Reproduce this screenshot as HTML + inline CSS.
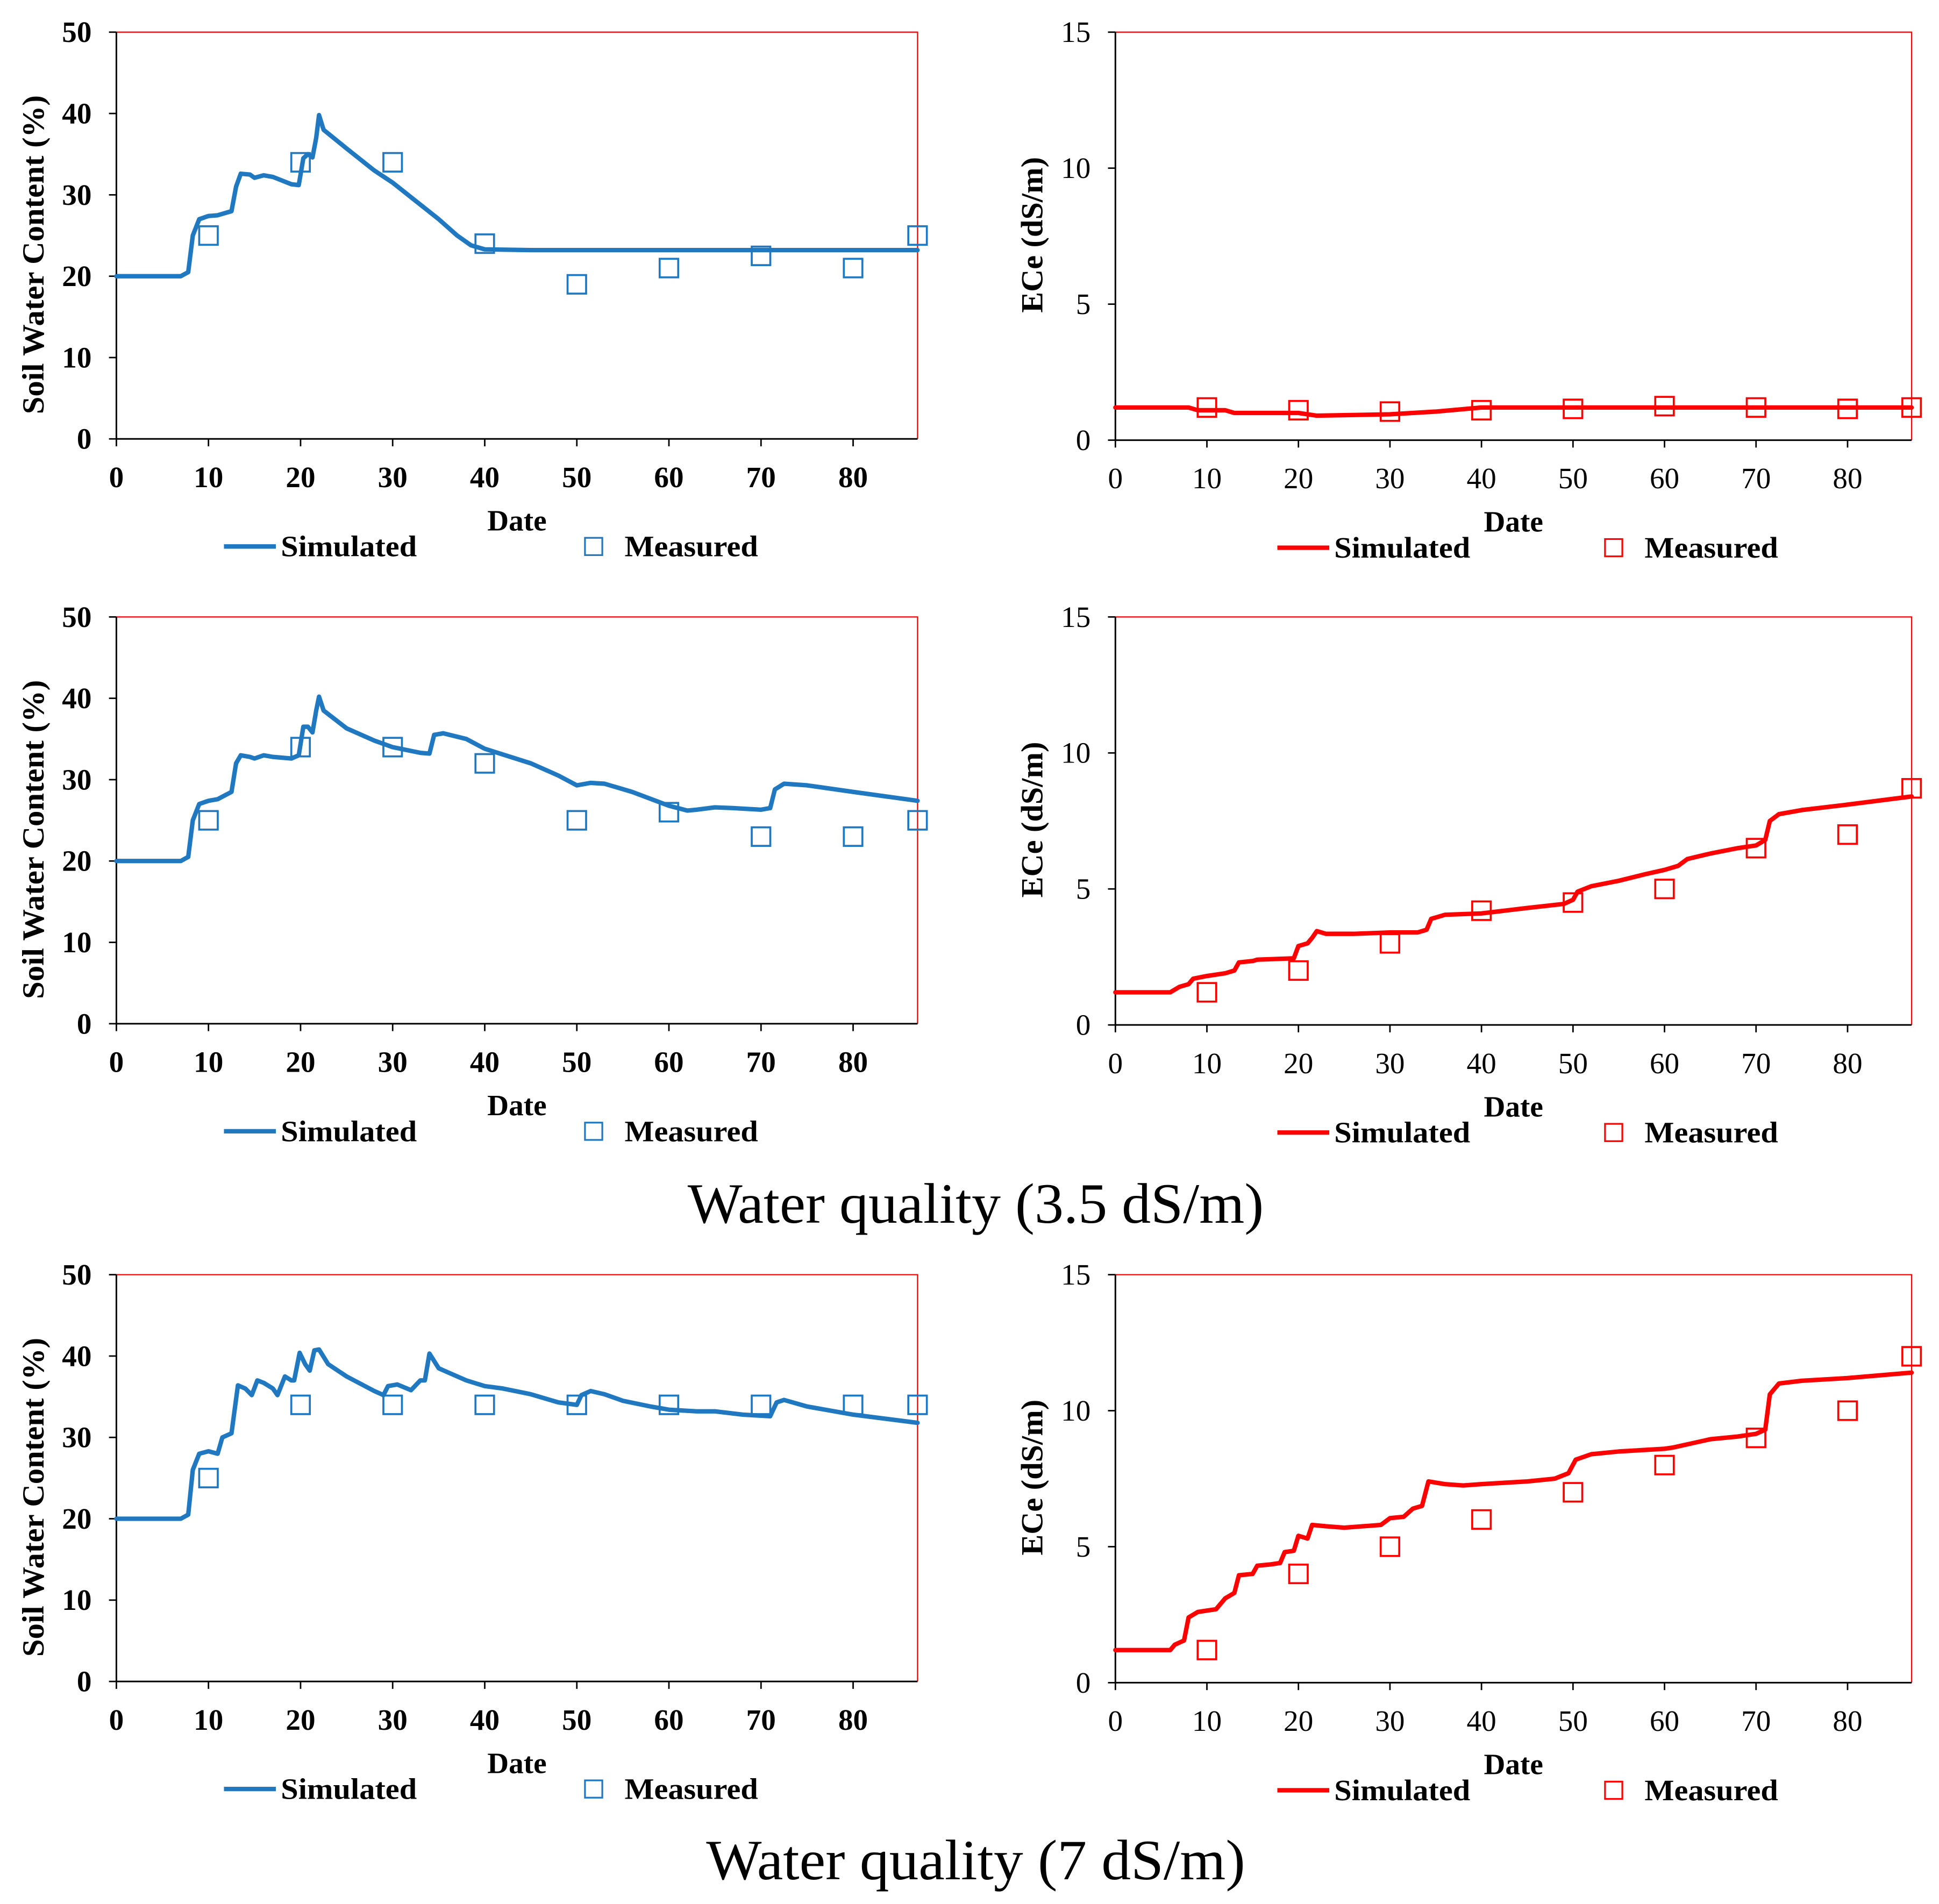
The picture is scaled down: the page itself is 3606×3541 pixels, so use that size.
<!DOCTYPE html>
<html><head><meta charset="utf-8"><style>
html,body{margin:0;padding:0;background:#fff}
svg{display:block}
text{font-family:"Liberation Serif",serif}
</style></head><body>
<svg id="fig" width="3606" height="3541" viewBox="0 0 1568 1540" xmlns="http://www.w3.org/2000/svg">
<text x="789" y="989" text-anchor="middle" font-size="46" textLength="466" lengthAdjust="spacingAndGlyphs">Water quality (3.5 dS/m)</text>
<text x="789" y="1520" text-anchor="middle" font-size="46" textLength="436" lengthAdjust="spacingAndGlyphs">Water quality (7 dS/m)</text>
</svg>
<script>
const xTicks=[0,10,20,30,40,50,60,70,80];
const swcTicks=[0,10,20,30,40,50];
const eceTicks=[0,5,10,15];
const measDays=[10,20,30,40,50,60,70,80,87];
const swcSimDays1=[0,7,7.8,8.3,9,10,11,12.5,13,13.5,14.5,15,16,17,19,19.8,20.3,20.8,21.3,21.7,22,22.5,25,28,30,35,37,38.5,40,45,87];
const swcSimVals1=[20,20,20.5,25,27,27.4,27.5,28,31,32.6,32.5,32.1,32.4,32.2,31.3,31.2,34.5,35,34.6,37,39.8,38,35.7,33,31.5,27,25,23.8,23.3,23.2,23.2];
const swcMeas1=[25,34,34,24,19,21,22.5,21,25];
const swcSimDays2=[0,7,7.8,8.3,9,10,11,12.5,13,13.5,14.5,15,16,17,19,19.8,20.3,20.8,21.3,21.7,22,22.5,25,28,30,33,34,34.5,35.5,38,40,45,48,50,51.5,53,56,60,62,63,65,67,70,71,71.5,72.5,75,80,87];
const swcSimVals2=[20,20,20.5,25,27,27.4,27.6,28.5,32,33,32.8,32.6,33,32.8,32.6,33,36.5,36.5,35.8,38.5,40.2,38.5,36.3,34.8,34,33.3,33.2,35.5,35.7,35,33.8,32,30.5,29.3,29.6,29.5,28.5,26.8,26.2,26.3,26.6,26.5,26.3,26.5,28.8,29.5,29.3,28.5,27.4];
const swcMeas2=[25,34,34,32,25,26,23,23,25];
const swcSimDays3=[0,7,7.8,8.3,9,10,11,11.5,12.5,13.2,14,14.7,15.3,16,17,17.5,18.3,19,19.3,19.9,20.5,21,21.5,22,23,25,28,29,29.5,30.5,32,33,33.5,34,35,36,38,40,42,45,48,50,50.5,51.5,53,55,58,60,63,65,68,71,71.7,72.5,75,80,87];
const swcSimVals3=[20,20,20.5,26,28,28.3,28,30,30.5,36.4,36,35.2,37,36.7,36,35.2,37.5,37,37,40.4,39,38.2,40.7,40.8,39,37.5,35.7,35.2,36.3,36.5,35.8,37,37,40.3,38.5,38,37,36.3,36,35.3,34.3,34,35.2,35.7,35.3,34.5,33.8,33.4,33.2,33.2,32.8,32.6,34.3,34.6,33.8,32.8,31.8];
const swcMeas3=[25,34,34,34,34,34,34,34,34];
const eceSimDays1=[0,7,8,9,12,13,20,22,30,35,40,87];
const eceSimVals1=[1.2,1.2,1.2,1.1,1.1,1.0,1.0,0.9,0.95,1.05,1.2,1.2];
const eceMeas1=[1.2,1.1,1.05,1.1,1.15,1.25,1.2,1.15,1.2];
const eceSimDays2=[0,6,7,8,8.5,10,12,13,13.5,15,15.5,19.5,20,21,21.5,22,23,26,30,33,34,34.5,36,40,45,49,50,50.5,52,55,58,60,61.5,62.5,65,68,70,71,71.5,72.5,75,80,87];
const eceSimVals2=[1.2,1.2,1.4,1.5,1.7,1.8,1.9,2.0,2.3,2.35,2.4,2.45,2.9,3.0,3.2,3.45,3.35,3.35,3.4,3.4,3.5,3.9,4.05,4.1,4.3,4.45,4.6,4.9,5.1,5.3,5.55,5.7,5.85,6.1,6.3,6.5,6.6,6.8,7.5,7.75,7.9,8.1,8.4];
const eceMeas2=[1.2,2,3,4.2,4.5,5,6.5,7,8.7];
const eceSimDays3=[0,6,6.5,7.5,8,9,11,12,13,13.5,15,15.5,17,18,18.5,19.5,20,21,21.5,23,25,29,30,31.5,32.5,33.5,34.2,36,38,40,45,48,49.5,50.3,52,55,60,61,63,65,68,70,71,71.5,72.5,75,80,87];
const eceSimVals3=[1.2,1.2,1.4,1.55,2.4,2.6,2.7,3.1,3.3,3.95,4.0,4.3,4.35,4.4,4.8,4.85,5.4,5.3,5.8,5.75,5.7,5.8,6.05,6.1,6.4,6.5,7.4,7.3,7.25,7.3,7.4,7.5,7.7,8.2,8.4,8.5,8.6,8.65,8.8,8.95,9.05,9.15,9.3,10.6,11.0,11.1,11.2,11.4];
const eceMeas3=[1.2,4,5,6,7,8,9,10,12];

const NS="http://www.w3.org/2000/svg";
const svg=document.getElementById('fig');
function mk(tag,attrs,parent){const e=document.createElementNS(NS,tag);for(const k in attrs)e.setAttribute(k,attrs[k]);(parent||svg).appendChild(e);return e;}

function panel(id,L,R,T,B,ymax,yTicks,yTitle,bold,color,simD,simV,meas,yTitleX,yTitleC,yTitleLen){
  const g=mk('g',{});
  
  
  const X=d=>L+(R-L)*d/87, Y=v=>B-(B-T)*v/ymax;
  const fw=bold?'bold':'normal';
  const fr=mk('path',{d:`M${L},${T}H${R}V${B}`,fill:'none',stroke:'#ff0000','stroke-width':1},g);
  
  
  const ax=mk('path',{d:`M${L},${T}V${B}H${R}`,fill:'none',stroke:'#000','stroke-width':1.3},g);
  
  
  yTicks.forEach(v=>{
    mk('line',{x1:L-6,x2:L,y1:Y(v),y2:Y(v),stroke:'#000','stroke-width':1.2},g);
    const t=mk('text',{x:L-20,y:Y(v)+8,'text-anchor':'end','font-size':24,'font-weight':fw},g);
    
    
    t.textContent=v;
  });
  xTicks.forEach(d=>{
    mk('line',{x1:X(d),x2:X(d),y1:B,y2:B+6,stroke:'#000','stroke-width':1.2},g);
    const t=mk('text',{x:X(d),y:B+39,'text-anchor':'middle','font-size':24,'font-weight':fw},g);
    
    
    t.textContent=d;
  });
  const yt=mk('text',{transform:`translate(${yTitleX},${T+yTitleC}) rotate(-90)`,'text-anchor':'middle','font-size':25,'font-weight':'bold',textLength:yTitleLen,lengthAdjust:'spacingAndGlyphs'},g);
  
  
  yt.textContent=yTitle;
  const dx=bold?418:1224;
  const xt=mk('text',{x:dx,y:B+74,'text-anchor':'middle','font-size':24,'font-weight':'bold'},g);
  
  
  xt.textContent='Date';
  const pts=simD.map((d,i)=>X(d).toFixed(1)+','+Y(simV[i]).toFixed(1)).join(' ');
  const pl=mk('polyline',{points:pts,fill:'none',stroke:color,'stroke-width':3.6,'stroke-linejoin':'round','stroke-linecap':'round'},g);
  
  
  measDays.forEach((d,i)=>{
    const r=mk('rect',{x:X(d)-7.5,y:Y(meas[i])-7.5,width:15,height:15,fill:'none',stroke:color,'stroke-width':1.6},g);
    
    
  });
  const ly=B+87;
  const lx=bold?181:1033;
  const ll=mk('line',{x1:lx,x2:lx+42,y1:ly,y2:ly,stroke:color,'stroke-width':3.6},g);
  
  
  const lt=mk('text',{x:lx+46,y:ly+8,'font-size':24,'font-weight':'bold',textLength:110,lengthAdjust:'spacingAndGlyphs'},g);
  
  
  lt.textContent='Simulated';
  const sx=bold?480:1305;
  const ls=mk('rect',{x:sx-7,y:ly-7,width:14,height:14,fill:'none',stroke:color,'stroke-width':1.4},g);
  
  
  const lm=mk('text',{x:sx+25,y:ly+8,'font-size':24,'font-weight':'bold',textLength:108,lengthAdjust:'spacingAndGlyphs'},g);
  
  
  lm.textContent='Measured';
}
const blue='#1f78c0', red='#ff0000';
const rowsL=[[26,355],[499,828],[1031,1360]];
const rowsR=[[26,356],[499,829],[1031,1361]];
const swc=[[swcSimDays1,swcSimVals1,swcMeas1],[swcSimDays2,swcSimVals2,swcMeas2],[swcSimDays3,swcSimVals3,swcMeas3]];
const ece=[[eceSimDays1,eceSimVals1,eceMeas1],[eceSimDays2,eceSimVals2,eceMeas2],[eceSimDays3,eceSimVals3,eceMeas3]];
for(let r=0;r<3;r++){
  panel('swc-chart-'+(r+1),94,742,rowsL[r][0],rowsL[r][1],50,swcTicks,'Soil Water Content (%)',true,blue,swc[r][0],swc[r][1],swc[r][2],35,180,258);
  panel('ece-chart-'+(r+1),902,1546,rowsR[r][0],rowsR[r][1],15,eceTicks,'ECe (dS/m)',false,red,ece[r][0],ece[r][1],ece[r][2],843,164,126);
}
</script>
</body></html>
